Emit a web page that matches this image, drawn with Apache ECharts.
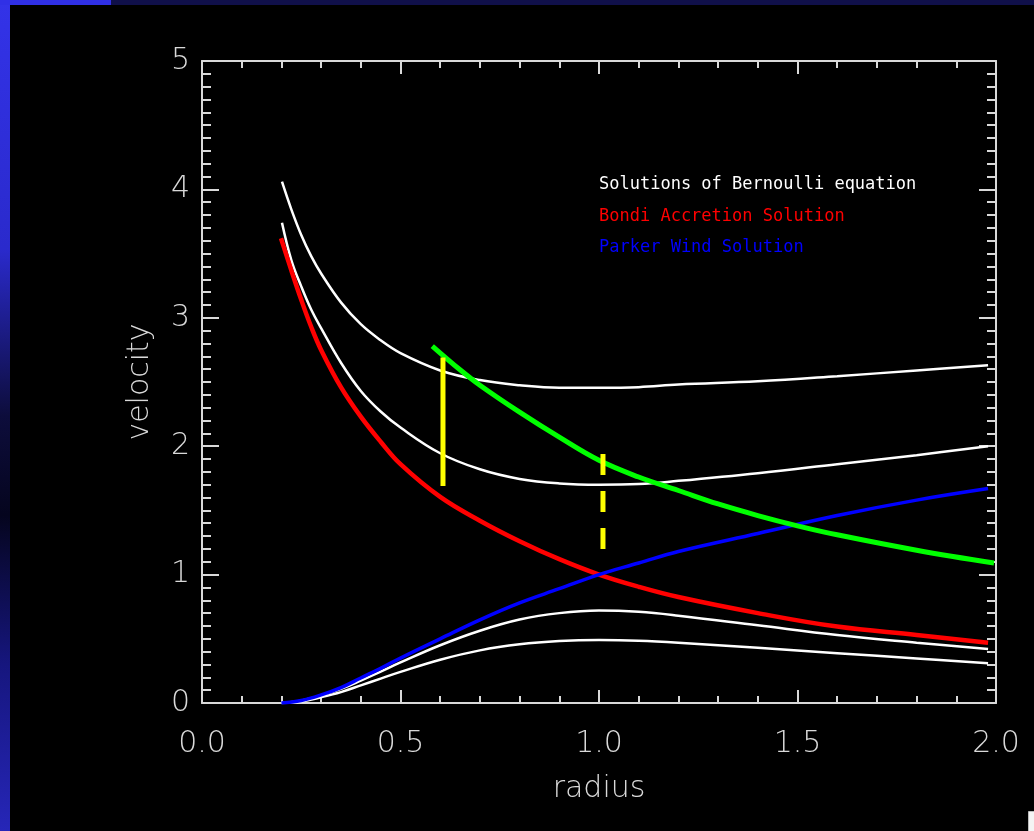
<!DOCTYPE html>
<html>
<head>
<meta charset="utf-8">
<script src="https://cdn.jsdelivr.net/npm/echarts@6/dist/echarts.min.js"></script>
<style>
  html, body { margin: 0; padding: 0; background: #000; }
  #chart { width: 1034px; height: 831px; }
</style>
</head>
<body>
<div id="chart"></div>
<script>
// ---------- data (radius, velocity) ----------
const xTicks = [0.0, 0.5, 1.0, 1.5, 2.0];
const yTicks = [0, 1, 2, 3, 4, 5];

const legendLabels = ['Solutions of Bernoulli equation', 'Bondi Accretion Solution', 'Parker Wind Solution'];

const whiteTop = [[0.2015,4.06],[0.225,3.845],[0.25,3.645],[0.275,3.48],[0.3,3.345],[0.35,3.12],[0.4,2.95],[0.45,2.825],[0.5,2.725],[0.6,2.59],[0.7,2.515],[0.8,2.475],[0.9,2.455],[1.0,2.455],[1.1,2.46],[1.2,2.48],[1.4,2.505],[1.6,2.545],[1.8,2.59],[1.98,2.63]];

const whiteMid = [[0.2015,3.74],[0.225,3.45],[0.25,3.245],[0.275,3.065],[0.3,2.92],[0.35,2.65],[0.4,2.43],[0.45,2.27],[0.5,2.145],[0.6,1.945],[0.7,1.82],[0.8,1.745],[0.9,1.71],[1.0,1.70],[1.1,1.705],[1.2,1.73],[1.4,1.79],[1.6,1.86],[1.8,1.93],[1.98,2.0]];

const bondi = [[0.199,3.62],[0.225,3.37],[0.25,3.14],[0.275,2.93],[0.3,2.75],[0.35,2.46],[0.4,2.23],[0.45,2.035],[0.5,1.86],[0.6,1.605],[0.7,1.42],[0.8,1.26],[0.9,1.12],[1.0,1.0],[1.1,0.905],[1.2,0.825],[1.4,0.70],[1.6,0.595],[1.8,0.53],[1.98,0.47]];

const parker = [[0.2,0.0],[0.25,0.02],[0.3,0.063],[0.35,0.12],[0.4,0.195],[0.45,0.27],[0.5,0.35],[0.6,0.50],[0.7,0.648],[0.8,0.78],[0.9,0.89],[1.0,1.0],[1.1,1.09],[1.2,1.18],[1.4,1.32],[1.6,1.46],[1.8,1.58],[1.98,1.67]];

const greenCurve = [[0.58,2.78],[0.65,2.595],[0.7,2.475],[0.8,2.265],[0.9,2.07],[1.0,1.89],[1.1,1.76],[1.2,1.655],[1.3,1.55],[1.4,1.46],[1.5,1.38],[1.6,1.31],[1.8,1.19],[1.995,1.09]];

const whiteLow1 = [[0.2,0.0],[0.25,0.018],[0.3,0.058],[0.35,0.11],[0.4,0.175],[0.45,0.245],[0.5,0.316],[0.6,0.45],[0.7,0.563],[0.8,0.65],[0.9,0.70],[1.0,0.72],[1.1,0.71],[1.2,0.68],[1.4,0.605],[1.6,0.53],[1.8,0.47],[1.98,0.42]];

const whiteLow2 = [[0.2,0.0],[0.25,0.012],[0.3,0.045],[0.35,0.085],[0.4,0.137],[0.45,0.19],[0.5,0.242],[0.6,0.337],[0.7,0.41],[0.8,0.457],[0.9,0.482],[1.0,0.49],[1.1,0.485],[1.2,0.47],[1.4,0.43],[1.6,0.388],[1.8,0.347],[1.98,0.31]];

const yellowSolid = [[0.607,2.69],[0.607,1.69]];
const yellowDashed = [[1.01,1.94],[1.01,1.20]];

// ---------- chart ----------
const AX = '#d9d9d9';
const labelFont = { fontFamily: 'DejaVu Sans', fontWeight: 200, fontSize: 30, color: '#d9d9d9' };

function axisCommon(isX, showLabels) {
  return {
    type: 'value',
    min: isX ? xTicks[0] : yTicks[0],
    max: isX ? xTicks[xTicks.length-1] : yTicks[yTicks.length-1],
    interval: isX ? (xTicks[1]-xTicks[0]) : (yTicks[1]-yTicks[0]),
    axisLine: { show: true, onZero: false, lineStyle: { color: AX, width: 2 } },
    axisTick: { show: true, inside: true, length: isX ? 13 : 17, lineStyle: { color: AX, width: 2 } },
    minorTick: { show: true, splitNumber: isX ? 5 : 10, length: isX ? 7 : 9, lineStyle: { color: AX, width: 2 } },
    splitLine: { show: false },
    minorSplitLine: { show: false },
    axisLabel: Object.assign({ show: showLabels, showMinLabel: true, showMaxLabel: true }, labelFont),
  };
}

const xBottom = Object.assign(axisCommon(true, true), {
  position: 'bottom',
  name: 'radius', nameLocation: 'middle', nameGap: 71,
  nameTextStyle: labelFont,
});
xBottom.axisLabel.margin = 26;
xBottom.axisLabel.formatter = v => v.toFixed(1);

const xTop = Object.assign(axisCommon(true, false), { position: 'top' });

const yLeft = Object.assign(axisCommon(false, true), {
  position: 'left',
  name: 'velocity', nameLocation: 'middle', nameGap: 47,
  nameTextStyle: labelFont,
});
yLeft.axisLabel.margin = 12;
yLeft.axisLabel.formatter = v => String(v);

const yRight = Object.assign(axisCommon(false, false), { position: 'right' });

function lineSeries(name, data, color, width, extra) {
  return Object.assign({
    name, type: 'line', data, showSymbol: false, symbol: 'none',
    smooth: 0.4, xAxisIndex: 0, yAxisIndex: 0,
    lineStyle: { color, width, cap: 'butt' },
    itemStyle: { color },
    silent: true, animation: false,
  }, extra || {});
}

const legendColors = ['#ffffff', '#ff0000', '#0000ff'];
const legendY = [184, 216, 247];

const chart = echarts.init(document.getElementById('chart'), null, { renderer: 'canvas' });
chart.setOption({
  backgroundColor: '#000000',
  animation: false,
  grid: { left: 202, right: 38, top: 61, bottom: 128, containLabel: false },
  xAxis: [xBottom, xTop],
  yAxis: [yLeft, yRight],
  series: [
    lineSeries('whiteTop', whiteTop, '#ffffff', 2.5),
    lineSeries('whiteMid', whiteMid, '#ffffff', 2.5),
    lineSeries('whiteLow1', whiteLow1, '#ffffff', 2.5),
    lineSeries('whiteLow2', whiteLow2, '#ffffff', 2.5),
    lineSeries(legendLabels[1], bondi, '#ff0000', 4.5),
    lineSeries(legendLabels[2], parker, '#0000ff', 3.5),
    lineSeries('green', greenCurve, '#00ff00', 5),
    lineSeries('yellowSolid', yellowSolid, '#ffff00', 5, { smooth: false }),
    lineSeries('yellowDashed', yellowDashed, '#ffff00', 5, { smooth: false,
      lineStyle: { color: '#ffff00', width: 5, type: [21, 16], cap: 'butt' } }),
  ],
  graphic: [
    { type: 'rect', shape: { x: 0, y: 0, width: 10, height: 831 }, silent: true, z: -10,
      style: { fill: new echarts.graphic.LinearGradient(0, 0, 0, 1, [
        { offset: 0, color: '#3333e8' },
        { offset: 0.3, color: '#2a2acc' },
        { offset: 0.5, color: '#0d0d3c' },
        { offset: 0.62, color: '#05051e' },
        { offset: 0.8, color: '#16167e' },
        { offset: 1, color: '#2626b8' } ]) } },
    { type: 'rect', shape: { x: 0, y: 0, width: 111, height: 5 }, silent: true, z: -10, style: { fill: '#3030e6' } },
    { type: 'rect', shape: { x: 111, y: 0, width: 923, height: 5 }, silent: true, z: -10, style: { fill: '#10104a' } },
    { type: 'rect', shape: { x: 1028.5, y: 811.5, width: 8, height: 25 }, silent: true, style: { fill: '#f4f4f4', stroke: '#bbbbbb', lineWidth: 1 } },
  ].concat(legendLabels.map((t, i) => ({
    type: 'text', left: 599, top: legendY[i] - 8, silent: true,
    style: { text: t, fill: legendColors[i], font: '17px "DejaVu Sans Mono"' }
  }))),
});
</script>
</body>
</html>
